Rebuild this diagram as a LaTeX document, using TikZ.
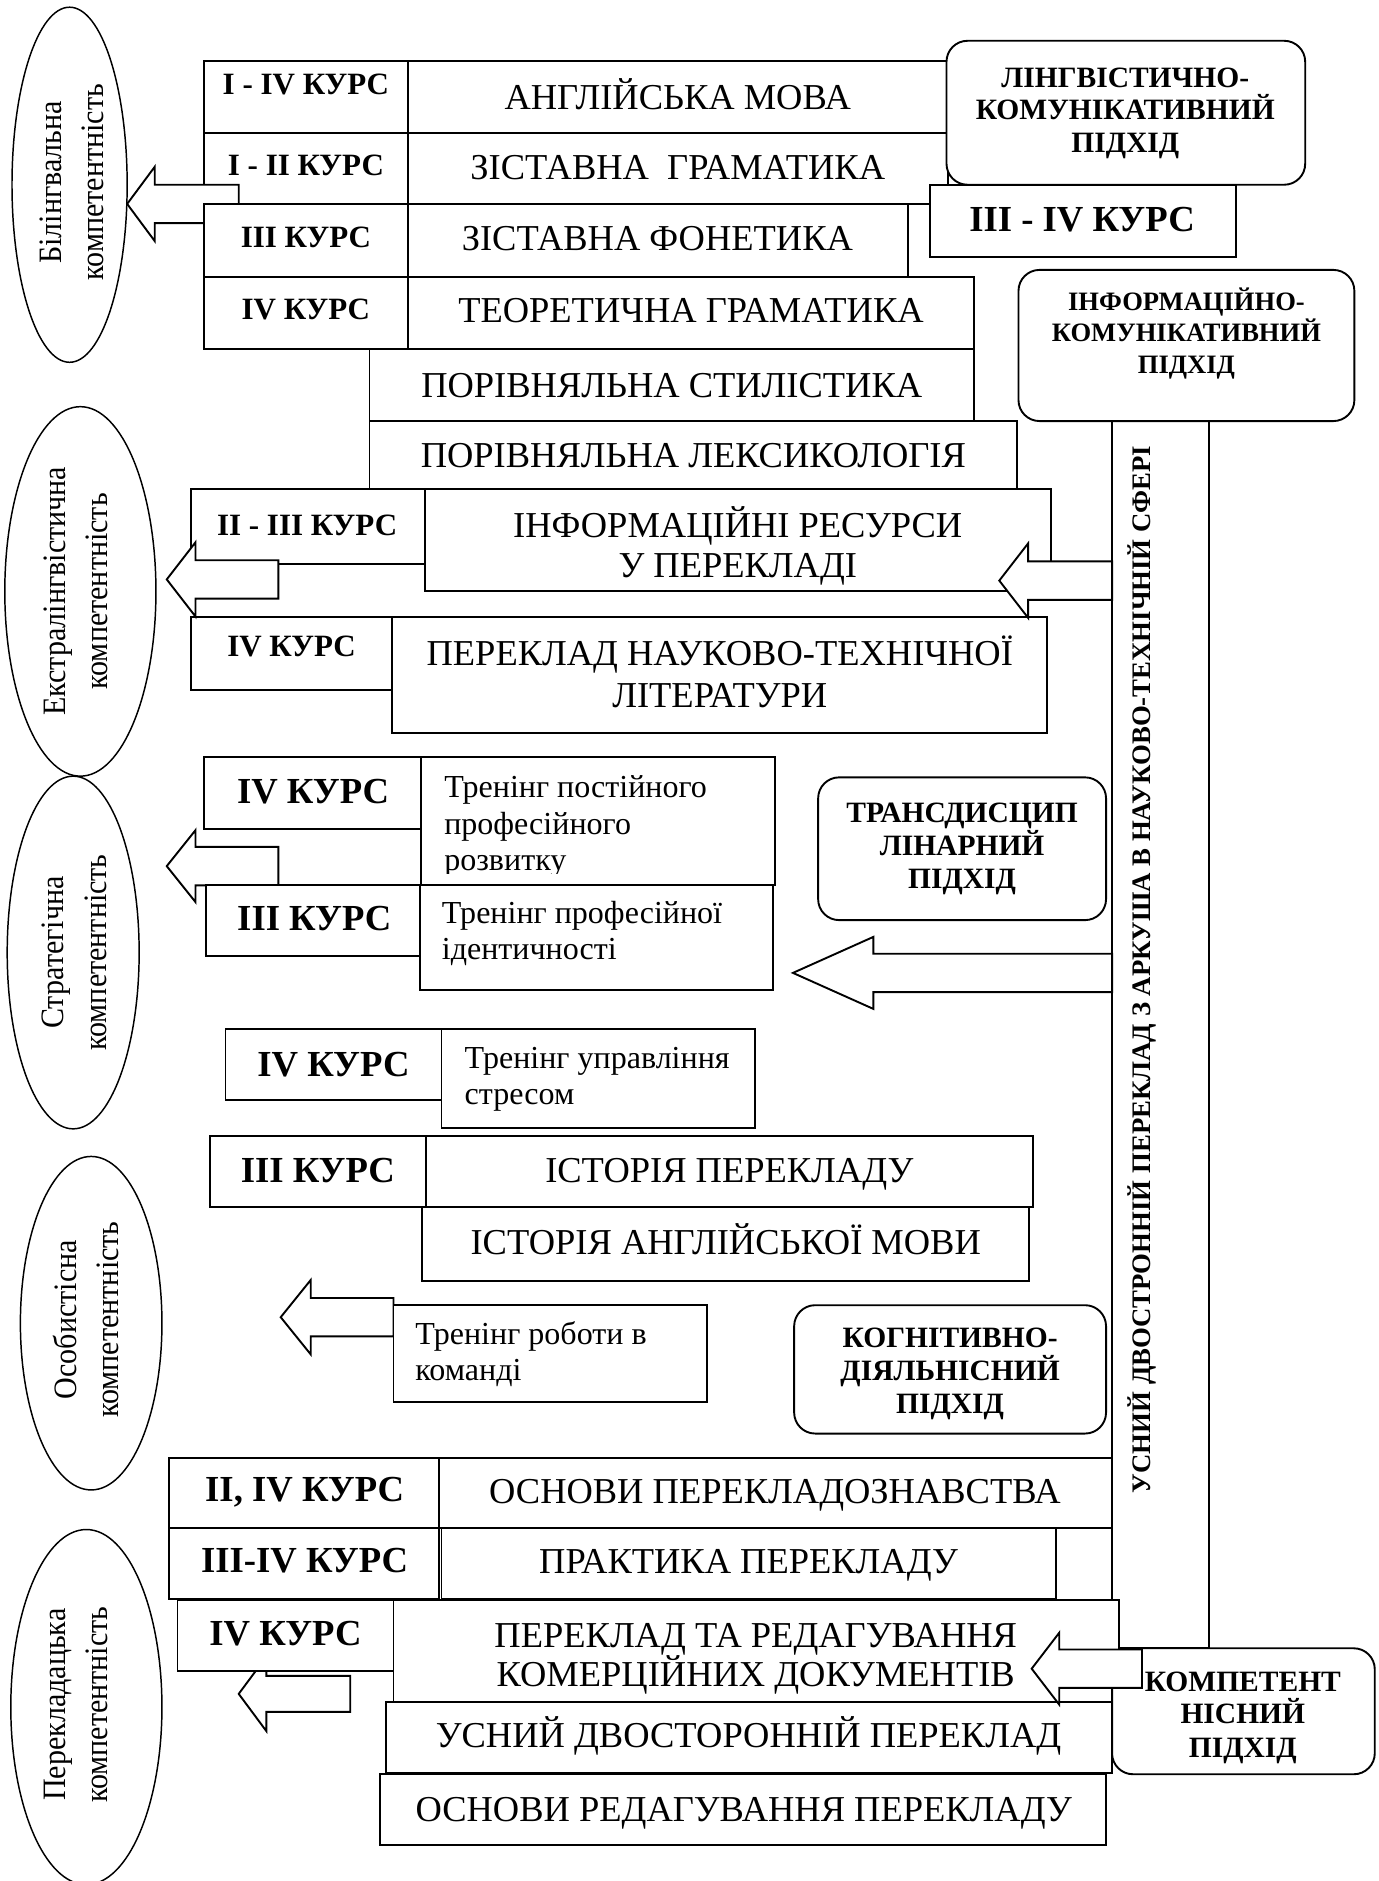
\documentclass[tikz,border=0pt]{standalone}
\usepackage{fontspec}
\setmainfont{Liberation Serif}
\newfontfamily\elfont[FakeStretch=0.92]{Liberation Serif}

\newcommand{\livastrilka}[6]{%
  \draw[strilka] (#1,#2) -- (#3,{#2-#4}) -- (#3,{#2-#5}) -- (#6,{#2-#5})
    -- (#6,{#2+#5}) -- (#3,{#2+#5}) -- (#3,{#2+#4}) -- cycle;}

\tikzset{
  every node/.style={inner sep=0pt},
  box/.style={draw, fill=white, line width=0.9pt},
  pidkhid/.style={draw, fill=white, line width=0.9pt, rounded corners=3.5mm},
  strilka/.style={draw, fill=white, line width=0.9pt, line join=miter},
  kompet/.style={draw, line width=0.7pt},
  disc/.style={anchor=base, font=\fontsize{17.3}{20}\selectfont},
  kurs/.style={anchor=base, font=\fontsize{14.7}{17}\selectfont\bfseries},
  bigkurs/.style={anchor=base, font=\fontsize{17.4}{20}\selectfont\bfseries},
  trening/.style={anchor=base west, font=\fontsize{15.2}{17}\selectfont},
  pidtxt/.style={anchor=base, font=\fontsize{14}{16}\selectfont\bfseries},
  elab/.style={rotate=90, align=center, font=\elfont\fontsize{15.5}{20}\selectfont},
  smuha/.style={rotate=90, font=\fontsize{12.7}{15}\selectfont\bfseries}
}

\begin{document}
\begin{tikzpicture}[x=0.2mm, y=-0.2mm]
\useasboundingbox (0,0) rectangle (1149,1568);

\draw[kompet] (58,154) ellipse [x radius=48, y radius=148];
\node[elab] (bilingv) at (60,152) {Білінгвальна\\компетентність};
\draw[kompet] (67,493) ellipse [x radius=63, y radius=154];
\node[elab] (ekstra) at (63,493) {Екстралінгвістична\\компетентність};
\draw[kompet] (61,794) ellipse [x radius=55, y radius=147];
\node[elab] (strateg) at (62,794) {Стратегічна\\компетентність};
\draw[kompet] (76,1103) ellipse [x radius=59, y radius=139];
\node[elab] (osobyst) at (72,1100) {Особистісна\\компетентність};
\draw[kompet] (72,1423) ellipse [x radius=63, y radius=148];
\node[elab] (perekl) at (63,1421) {Перекладацька\\компетентність};

% bilingual block
\draw[box] (170,51) rectangle (340,111);
\draw[box] (340,51) rectangle (790,111);
\node[kurs] (k1) at (255,79) {I - IV КУРС};
\node[disc] (angl) at (565,91) {АНГЛІЙСЬКА МОВА};
\draw[box] (170,111) rectangle (340,170);
\draw[box] (340,111) rectangle (790,170);
\node[kurs] (k2) at (255,146) {I - II КУРС};
\node[disc] (zgram) at (565,150) {ЗІСТАВНА\ \ ГРАМАТИКА};
\livastrilka{106}{170}{129}{31}{16}{199}
\draw[box] (170,170) rectangle (340,231);
\draw[box] (340,170) rectangle (757,231);
\node[kurs] (k3) at (255,206) {III КУРС};
\node[disc] (zfon) at (548,209) {ЗІСТАВНА ФОНЕТИКА};
\draw[box] (170,231) rectangle (340,291);
\draw[box] (340,231) rectangle (812,291);
\node[kurs] (k4) at (255,266) {IV КУРС};
\node[disc] (tgram) at (576,269) {ТЕОРЕТИЧНА ГРАМАТИКА};
\draw[box] (308,291) rectangle (812,351);
\node[disc] (pstyl) at (560,331) {ПОРІВНЯЛЬНА СТИЛІСТИКА};
\draw[box] (308,351) rectangle (848,408);
\node[disc] (plex) at (578,390) {ПОРІВНЯЛЬНА ЛЕКСИКОЛОГІЯ};

\draw[pidkhid] (789,34) rectangle (1088,154);
\node[pidtxt] (lk1) at (938,73) {ЛІНГВІСТИЧНО-};
\node[pidtxt] (lk2) at (938,100) {КОМУНІКАТИВНИЙ};
\node[pidtxt] (lk3) at (938,127) {ПІДХІД};
\draw[box] (775,154) rectangle (1030,214);
\node[bigkurs] (k34) at (902,193) {III - IV КУРС};

\draw[box] (927,351) rectangle (1008,1374);
\node[smuha] (usnyi) at (952,808) {УСНИЙ ДВОСТРОННІЙ ПЕРЕКЛАД З АРКУША В НАУКОВО-ТЕХНІЧНІЙ СФЕРІ};
\draw[pidkhid] (849,225) rectangle (1129,351);
\node[pidtxt, font=\fontsize{12.6}{15}\selectfont\bfseries] (ik1) at (989,259) {ІНФОРМАЦІЙНО-};
\node[pidtxt, font=\fontsize{12.6}{15}\selectfont\bfseries] (ik2) at (989,285) {КОМУНІКАТИВНИЙ};
\node[pidtxt, font=\fontsize{12.6}{15}\selectfont\bfseries] (ik3) at (989,311) {ПІДХІД};

% extralinguistic block
\draw[box] (159,408) rectangle (354,470);
\node[kurs] (k23) at (256,446) {II - III КУРС};
\draw[box] (354,408) rectangle (876,493);
\node[disc] (inf1) at (615,448) {ІНФОРМАЦІЙНІ РЕСУРСИ};
\node[disc] (inf2) at (615,481) {У ПЕРЕКЛАДІ};
\draw[box] (159,514) rectangle (327,575);
\node[kurs] (k4b) at (243,547) {IV КУРС};
\draw[box] (327,514) rectangle (873,611);
\node[disc] (nt1) at (600,555) {ПЕРЕКЛАД НАУКОВО-ТЕХНІЧНОЇ};
\node[disc] (nt2) at (600,590) {ЛІТЕРАТУРИ};
\livastrilka{139}{483}{163}{31}{16}{232}
\livastrilka{833}{484}{857}{31}{16}{927}

% strategic block
\draw[box] (170,631) rectangle (351,691);
\node[bigkurs] (k4c) at (261,670) {IV КУРС};
\draw[box] (351,631) rectangle (646,738);
\begin{scope}
  \clip (351,631) rectangle (646,728);
  \node[trening] (tp1) at (370,665) {Тренінг постійного};
  \node[trening] (tp2) at (370,696) {професійного};
  \node[trening] (tp3) at (370,726) {розвитку};
\end{scope}
\livastrilka{139}{722}{163}{30}{16}{232}
\draw[box] (172,738) rectangle (352,797);
\node[bigkurs] (k3c) at (262,776) {III КУРС};
\draw[box] (350,738) rectangle (644,825);
\node[trening] (ti1) at (368,770) {Тренінг професійної};
\node[trening] (ti2) at (368,800) {ідентичності};
\draw[pidkhid] (682,648) rectangle (922,767);
\node[pidtxt] (tr1) at (802,686) {ТРАНСДИСЦИП};
\node[pidtxt] (tr2) at (802,713) {ЛІНАРНИЙ};
\node[pidtxt] (tr3) at (802,741) {ПІДХІД};
\livastrilka{661}{811}{728}{30}{16}{927}

% personal block
\draw[box] (188,858) rectangle (368,917);
\node[bigkurs] (k4d) at (278,897) {IV КУРС};
\draw[box] (368,858) rectangle (629,940);
\node[trening] (tu1) at (387,891) {Тренінг управління};
\node[trening] (tu2) at (387,921) {стресом};
\draw[box] (175,947) rectangle (355,1006);
\node[bigkurs] (k3d) at (265,986) {III КУРС};
\draw[box] (355,947) rectangle (861,1006);
\node[disc] (ipr) at (608,986) {ІСТОРІЯ ПЕРЕКЛАДУ};
\draw[box] (352,1006) rectangle (858,1068);
\node[disc] (iam) at (605,1046) {ІСТОРІЯ АНГЛІЙСЬКОЇ МОВИ};
\livastrilka{234}{1098}{259}{31}{16}{328}
\draw[box] (328,1088) rectangle (589,1169);
\node[trening] (tk1) at (346,1121) {Тренінг роботи в};
\node[trening] (tk2) at (346,1151) {команді};
\draw[pidkhid] (662,1088) rectangle (922,1195);
\node[pidtxt] (kd1) at (792,1123) {КОГНІТИВНО-};
\node[pidtxt] (kd2) at (792,1151) {ДІЯЛЬНІСНИЙ};
\node[pidtxt] (kd3) at (792,1178) {ПІДХІД};

% translation block
\draw[box] (141,1215) rectangle (366,1274);
\node[bigkurs] (k24) at (254,1252) {II, IV КУРС};
\draw[box] (366,1215) rectangle (927,1274);
\node[disc] (osp) at (646,1253) {ОСНОВИ ПЕРЕКЛАДОЗНАВСТВА};
\draw[box] (141,1274) rectangle (366,1333);
\node[bigkurs] (k34b) at (254,1311) {III-IV КУРС};
\draw[box] (368,1274) rectangle (880,1333);
\node[disc] (prak) at (624,1312) {ПРАКТИКА ПЕРЕКЛАДУ};
\livastrilka{199}{1412}{222}{31}{15}{292}
\draw[box] (148,1334) rectangle (328,1393);
\node[bigkurs] (k4e) at (238,1372) {IV КУРС};
\draw[box] (328,1334) rectangle (933,1419);
\node[disc] (kom1) at (630,1373) {ПЕРЕКЛАД ТА РЕДАГУВАННЯ};
\node[disc] (kom2) at (630,1406) {КОМЕРЦІЙНИХ ДОКУМЕНТІВ};
\draw[box] (322,1419) rectangle (927,1478);
\node[disc] (usn) at (624,1457) {УСНИЙ ДВОСТОРОННІЙ ПЕРЕКЛАД};
\draw[box] (317,1479) rectangle (922,1538);
\node[disc] (osr) at (620,1518) {ОСНОВИ РЕДАГУВАННЯ ПЕРЕКЛАДУ};
\draw[pidkhid] (927,1374) rectangle (1146,1479);
\node[pidtxt] (kn1) at (1036,1410) {КОМПЕТЕНТ};
\node[pidtxt] (kn2) at (1036,1437) {НІСНИЙ};
\node[pidtxt] (kn3) at (1036,1465) {ПІДХІД};
\livastrilka{860}{1391}{883}{30}{16}{952}
\end{tikzpicture}
\end{document}
